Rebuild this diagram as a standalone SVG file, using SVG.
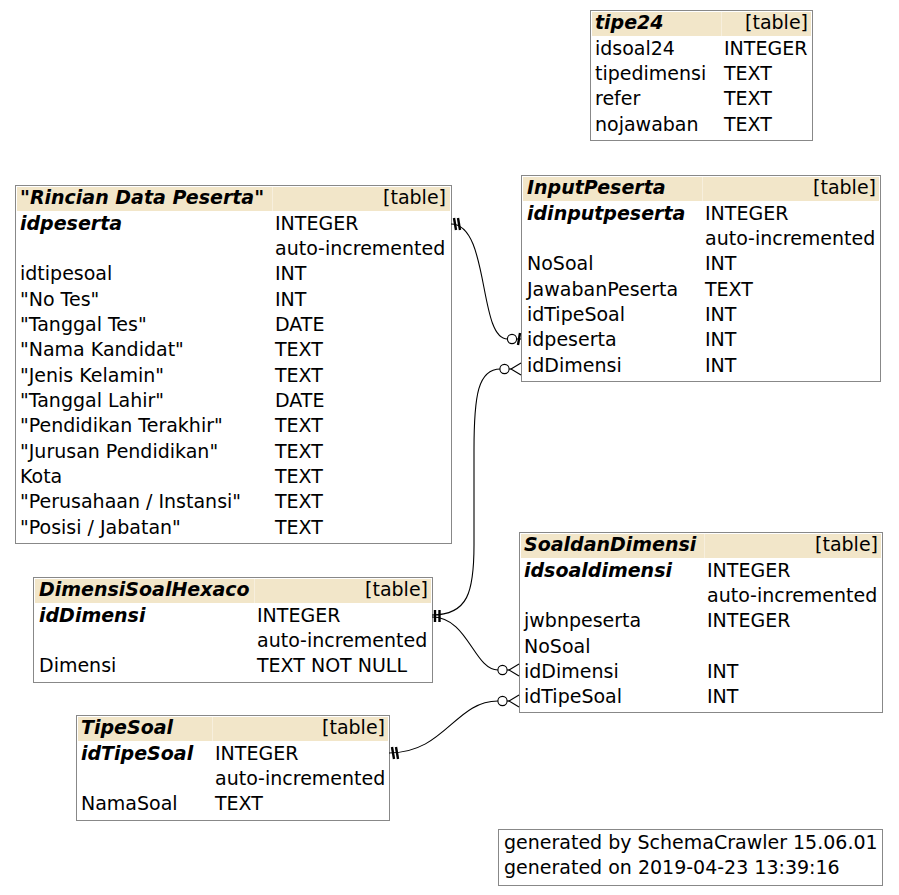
<svg xmlns="http://www.w3.org/2000/svg" xmlns:xlink="http://www.w3.org/1999/xlink" width="899" height="895" viewBox="0 0 899 895">
<style>
text{font-family:"DejaVu Sans","Liberation Sans",sans-serif;font-size:19px;fill:#000}
.box{fill:#fff;stroke:#888888;stroke-width:1}
.hd{fill:#f2e6c9}
.gap{fill:#f7efdd}
.tn{font-weight:bold;font-style:italic}
.tt{text-anchor:end}
.pk{font-weight:bold;font-style:italic}
.edge{fill:none;stroke:#000;stroke-width:1.1}
.bar{stroke:#000;stroke-width:2.4;fill:none}
.mk{stroke:#000;stroke-width:1.1;fill:#fff}
</style>
<defs>
<g id="many">
<line class="mk" x1="-12" y1="0" x2="0" y2="0"/>
<path class="mk" d="M0,-6 L-10,0 L0,6" fill="none"/>
<circle class="mk" cx="-16.5" cy="0" r="4.6"/>
</g>
<g id="one">
<line class="mk" x1="-5" y1="0" x2="0" y2="0"/>
<line class="bar" x1="-1" y1="-6" x2="-3" y2="6"/>
<circle class="mk" cx="-9" cy="0" r="4.6"/>
</g>
<g id="pk1">
<line class="bar" x1="3" y1="-6" x2="5" y2="6"/>
<line class="bar" x1="7" y1="-6" x2="9" y2="6"/>
</g>
<g id="pk2">
<line class="bar" x1="3" y1="-6" x2="3" y2="6" stroke-width="3"/>
<line class="bar" x1="7.5" y1="-6" x2="7.5" y2="6" stroke-width="3"/>
</g>
</defs>
<rect width="899" height="895" fill="#fff"/>

<g id="tipe24">
<rect class="box" x="590.5" y="10.5" width="222" height="130"/>
<rect class="hd" x="592" y="12" width="219" height="24"/>
<rect class="gap" x="721" y="12" width="1" height="24"/>
<text class="tn" x="595" y="29">tipe24</text>
<text class="tt" x="808" y="29">[table]</text>
<text x="595" y="54.5">idsoal24</text><text x="724" y="54.5">INTEGER</text>
<text x="595" y="79.8">tipedimensi</text><text x="724" y="79.8">TEXT</text>
<text x="595" y="105.2">refer</text><text x="724" y="105.2">TEXT</text>
<text x="595" y="130.5">nojawaban</text><text x="724" y="130.5">TEXT</text>
</g>

<g id="rincian">
<rect class="box" x="15.5" y="185.5" width="436" height="358"/>
<rect class="hd" x="17" y="187" width="433" height="24"/>
<rect class="gap" x="272" y="187" width="1" height="24"/>
<text class="tn" x="20" y="204">"Rincian Data Peserta"</text>
<text class="tt" x="446" y="204">[table]</text>
<text class="pk" x="20" y="229.5">idpeserta</text><text x="275" y="229.5">INTEGER</text>
<text x="275" y="254.8">auto-incremented</text>
<text x="20" y="280.2">idtipesoal</text><text x="275" y="280.2">INT</text>
<text x="20" y="305.5">"No Tes"</text><text x="275" y="305.5">INT</text>
<text x="20" y="330.8">"Tanggal Tes"</text><text x="275" y="330.8">DATE</text>
<text x="20" y="356.2">"Nama Kandidat"</text><text x="275" y="356.2">TEXT</text>
<text x="20" y="381.5">"Jenis Kelamin"</text><text x="275" y="381.5">TEXT</text>
<text x="20" y="406.8">"Tanggal Lahir"</text><text x="275" y="406.8">DATE</text>
<text x="20" y="432.2">"Pendidikan Terakhir"</text><text x="275" y="432.2">TEXT</text>
<text x="20" y="457.5">"Jurusan Pendidikan"</text><text x="275" y="457.5">TEXT</text>
<text x="20" y="482.8">Kota</text><text x="275" y="482.8">TEXT</text>
<text x="20" y="508.2">"Perusahaan / Instansi"</text><text x="275" y="508.2">TEXT</text>
<text x="20" y="533.5">"Posisi / Jabatan"</text><text x="275" y="533.5">TEXT</text>
</g>

<g id="inputpeserta">
<rect class="box" x="521.5" y="175.5" width="359" height="206"/>
<rect class="hd" x="523" y="177" width="356" height="24"/>
<rect class="gap" x="702" y="177" width="1" height="24"/>
<text class="tn" x="527" y="194">InputPeserta</text>
<text class="tt" x="876" y="194">[table]</text>
<text class="pk" x="527" y="219.5">idinputpeserta</text><text x="705" y="219.5">INTEGER</text>
<text x="705" y="244.8">auto-incremented</text>
<text x="527" y="270.2">NoSoal</text><text x="705" y="270.2">INT</text>
<text x="527" y="295.5">JawabanPeserta</text><text x="705" y="295.5">TEXT</text>
<text x="527" y="320.8">idTipeSoal</text><text x="705" y="320.8">INT</text>
<text x="527" y="346.2">idpeserta</text><text x="705" y="346.2">INT</text>
<text x="527" y="371.5">idDimensi</text><text x="705" y="371.5">INT</text>
</g>

<g id="soaldandimensi">
<rect class="box" x="519.5" y="532.5" width="363" height="180"/>
<rect class="hd" x="521" y="534" width="360" height="24"/>
<rect class="gap" x="704" y="534" width="1" height="24"/>
<text class="tn" x="524" y="551">SoaldanDimensi</text>
<text class="tt" x="878" y="551">[table]</text>
<text class="pk" x="524" y="576.5">idsoaldimensi</text><text x="707" y="576.5">INTEGER</text>
<text x="707" y="601.8">auto-incremented</text>
<text x="524" y="627.2">jwbnpeserta</text><text x="707" y="627.2">INTEGER</text>
<text x="524" y="652.5">NoSoal</text>
<text x="524" y="677.8">idDimensi</text><text x="707" y="677.8">INT</text>
<text x="524" y="703.2">idTipeSoal</text><text x="707" y="703.2">INT</text>
</g>

<g id="dimensisoalhexaco">
<rect class="box" x="33.5" y="577.5" width="399" height="105"/>
<rect class="hd" x="35" y="579" width="396" height="24"/>
<rect class="gap" x="254" y="579" width="1" height="24"/>
<text class="tn" x="39" y="596">DimensiSoalHexaco</text>
<text class="tt" x="428" y="596">[table]</text>
<text class="pk" x="39" y="621.5">idDimensi</text><text x="257" y="621.5">INTEGER</text>
<text x="257" y="646.8">auto-incremented</text>
<text x="39" y="672.2">Dimensi</text><text x="257" y="672.2">TEXT NOT NULL</text>
</g>

<g id="tipesoal">
<rect class="box" x="76.5" y="715.5" width="313" height="105"/>
<rect class="hd" x="78" y="717" width="310" height="24"/>
<rect class="gap" x="212" y="717" width="1" height="24"/>
<text class="tn" x="81" y="734">TipeSoal</text>
<text class="tt" x="385" y="734">[table]</text>
<text class="pk" x="81" y="759.5">idTipeSoal</text><text x="215" y="759.5">INTEGER</text>
<text x="215" y="784.8">auto-incremented</text>
<text x="81" y="810.2">NamaSoal</text><text x="215" y="810.2">TEXT</text>
</g>

<g id="generated">
<rect class="box" x="498.5" y="829.5" width="384" height="56"/>
<text x="504" y="849">generated by SchemaCrawler 15.06.01</text>
<text x="504" y="874">generated on 2019-04-23 13:39:16</text>
</g>

<g id="connectors">
<path class="edge" d="M451,224 C490,224 478,339 507.5,339"/>
<use xlink:href="#pk1" href="#pk1" transform="translate(451,224)"/>
<use xlink:href="#one" href="#one" transform="translate(521,339)"/>

<path class="edge" d="M432,615 C468,615 474,592 474,545 L474,450 C474,395 478,369 500.5,369"/>
<use xlink:href="#many" href="#many" transform="translate(521,369)"/>

<path class="edge" d="M432,617 C468,617 474,670 498,670"/>
<use xlink:href="#many" href="#many" transform="translate(519,670)"/>
<use xlink:href="#pk2" href="#pk2" transform="translate(432,616)"/>

<path class="edge" d="M389,753 C445,753 455,701 498,701"/>
<use xlink:href="#many" href="#many" transform="translate(519,701)"/>
<use xlink:href="#pk1" href="#pk1" transform="translate(389,753)"/>
</g>
</svg>
